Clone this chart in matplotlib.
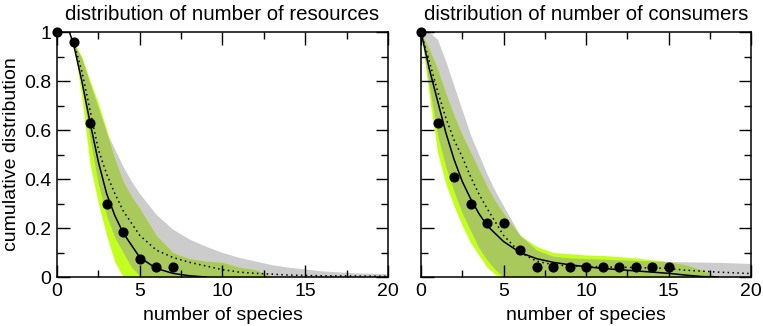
import numpy as np
import matplotlib
matplotlib.use('Agg')
from matplotlib import pyplot as plt

plt.rcParams['font.family'] = ['Liberation Sans', 'DejaVu Sans']

# observed cumulative distributions
res_x = [0, 1, 2, 3, 4, 5, 6, 7]
res_y = [1.0, 0.96, 0.63, 0.30, 0.185, 0.075, 0.04, 0.04]
con_x = [0, 1, 2, 3, 4, 5, 6, 7, 8, 9, 10, 11, 12, 13, 14, 15]
con_y = [1.0, 0.63, 0.41, 0.30, 0.22, 0.22, 0.11, 0.04, 0.04, 0.04, 0.04,
         0.04, 0.04, 0.04, 0.04, 0.04]

# model curves, resources
res_fit_x = [0.75, 1, 1.5, 2, 2.5, 3, 3.5, 4, 5, 6, 7, 8, 9]
res_fit_y = [1.0, 0.95, 0.80, 0.63, 0.47, 0.34, 0.25, 0.18, 0.08, 0.035,
             0.015, 0.005, 0.0]
res_dot_x = [1, 1.5, 2, 2.5, 3, 3.5, 4, 4.5, 5, 6, 7, 8, 9, 10, 11, 12, 14,
             16, 20]
res_dot_y = [0.96, 0.84, 0.68, 0.52, 0.42, 0.34, 0.27, 0.22, 0.17, 0.11, 0.08,
             0.06, 0.045, 0.03, 0.02, 0.015, 0.008, 0.005, 0.003]

# bands, resources
res_band_x = [1, 1.5, 2, 2.5, 3, 3.5, 4, 4.5, 5, 6, 7, 8, 9, 10, 11, 12, 13,
              14, 16, 18, 20]
res_gray_lo = [0.96, 0.78, 0.56, 0.38, 0.25, 0.16, 0.10, 0.04, 0.005, 0, 0, 0,
               0, 0, 0, 0, 0, 0, 0, 0, 0]
res_gray_hi = [0.96, 0.89, 0.79, 0.69, 0.59, 0.52, 0.45, 0.39, 0.34, 0.255,
               0.195, 0.155, 0.125, 0.10, 0.08, 0.065, 0.05, 0.04, 0.025,
               0.017, 0.013]
res_lime_lo = [0.96, 0.73, 0.46, 0.30, 0.17, 0.06, 0, 0, 0, 0, 0, 0, 0, 0, 0,
               0, 0, 0, 0, 0, 0]
res_lime_hi = [0.96, 0.90, 0.80, 0.71, 0.60, 0.48, 0.39, 0.33, 0.28, 0.17,
               0.10, 0.075, 0.065, 0.06, 0.04, 0.03, 0, 0, 0, 0, 0]

# model curves, consumers
con_fit_x = [0, 0.5, 1, 1.5, 2, 2.5, 3, 3.5, 4, 5, 6, 7, 8, 9, 10, 11, 12,
             13, 14, 15, 16, 17, 18]
con_fit_y = [1.0, 0.85, 0.72, 0.59, 0.48, 0.39, 0.32, 0.26, 0.21, 0.145,
             0.10, 0.075, 0.06, 0.05, 0.042, 0.035, 0.03, 0.025, 0.02, 0.015,
             0.008, 0.002, 0.0]
con_dot_x = [0, 0.5, 1, 1.5, 2, 2.5, 3, 3.5, 4, 5, 6, 7, 8, 9, 10, 12, 14,
             15, 16, 18, 20]
con_dot_y = [1.0, 0.88, 0.76, 0.65, 0.56, 0.49, 0.41, 0.34, 0.28, 0.17, 0.10,
             0.065, 0.05, 0.045, 0.043, 0.04, 0.037, 0.035, 0.028, 0.02,
             0.014]

# bands, consumers
con_band_x = [0, 0.5, 1, 1.5, 2, 2.5, 3, 3.5, 4, 4.5, 5, 6, 7, 8, 9, 10, 11,
              12, 13, 14, 15, 16, 17, 18, 20]
con_gray_lo = [1.0, 0.78, 0.58, 0.45, 0.35, 0.26, 0.19, 0.12, 0.07, 0.03, 0,
               0, 0, 0, 0, 0, 0, 0, 0, 0, 0, 0, 0, 0, 0]
con_gray_hi = [1.0, 1.0, 0.97, 0.88, 0.78, 0.68, 0.58, 0.50, 0.42, 0.35, 0.29,
               0.17, 0.11, 0.085, 0.078, 0.075, 0.073, 0.07, 0.068, 0.065,
               0.063, 0.062, 0.061, 0.06, 0.055]
con_lime_lo = [1.0, 0.74, 0.51, 0.38, 0.29, 0.21, 0.14, 0.09, 0.04, 0.01, 0,
               0, 0, 0, 0, 0, 0, 0, 0, 0, 0, 0, 0, 0, 0]
con_lime_hi = [1.0, 0.93, 0.85, 0.75, 0.66, 0.58, 0.51, 0.44, 0.37, 0.31,
               0.26, 0.17, 0.125, 0.10, 0.095, 0.09, 0.088, 0.083, 0.078,
               0.07, 0.063, 0.05, 0.03, 0.0, 0.0]

gray = '#cccccc'
lime = '#c2ff1e'
olive = '#a9c95c'


def panel(ax, title, bx, glo, ghi, llo, lhi, fx, fy, dx, dy, px, py):
    bx = np.array(bx)
    glo, ghi = np.array(glo), np.array(ghi)
    llo, lhi = np.array(llo), np.array(lhi)
    ax.fill_between(bx, glo, ghi, color=gray, lw=0)
    ax.fill_between(bx, llo, lhi, color=lime, lw=0)
    lo = np.maximum(glo, llo)
    hi = np.minimum(ghi, lhi)
    ax.fill_between(bx, lo, hi, where=hi > lo, interpolate=True,
                    color=olive, lw=0)
    ax.plot(dx, dy, color='k', ls=(0, (1, 2.2)), lw=1.1)
    ax.plot(fx, fy, color='k', lw=1.1)
    ax.plot(px, py, 'o', color='k', ms=6.3, clip_on=False, zorder=5)
    ax.set_xlim(0, 20)
    ax.set_ylim(0, 1)
    ax.set_xticks([0, 5, 10, 15, 20])
    ax.set_xticks([2.5, 7.5, 12.5, 17.5], minor=True)
    ax.set_yticks([0, 0.2, 0.4, 0.6, 0.8, 1])
    ax.set_yticklabels(['0', '0.2', '0.4', '0.6', '0.8', '1'])
    ax.set_yticks([0.1, 0.3, 0.5, 0.7, 0.9], minor=True)
    ax.tick_params(which='both', direction='in', top=True, right=True,
                   labelsize=14, width=1, pad=4)
    ax.tick_params(which='major', length=9)
    ax.tick_params(which='minor', length=4.7)
    for s in ax.spines.values():
        s.set_linewidth(1.1)
    ax.set_xlabel('number of species', fontsize=14, labelpad=5)
    ax.set_title(title, fontsize=14.7, pad=9)


fig = plt.figure(figsize=(7.63, 3.26), dpi=100)
ax1 = fig.add_axes([0.0747, 0.1503, 0.4338, 0.7515])
ax2 = fig.add_axes([0.5518, 0.1503, 0.4325, 0.7515])

panel(ax1, 'distribution of number of resources', res_band_x, res_gray_lo,
      res_gray_hi, res_lime_lo, res_lime_hi, res_fit_x, res_fit_y,
      res_dot_x, res_dot_y, res_x, res_y)
ax1.set_ylabel('cumulative distribution', fontsize=14, labelpad=3)

panel(ax2, 'distribution of number of consumers', con_band_x, con_gray_lo,
      con_gray_hi, con_lime_lo, con_lime_hi, con_fit_x, con_fit_y,
      con_dot_x, con_dot_y, con_x, con_y)
ax2.set_yticklabels([])

fig.savefig('out.png', dpi=100)
